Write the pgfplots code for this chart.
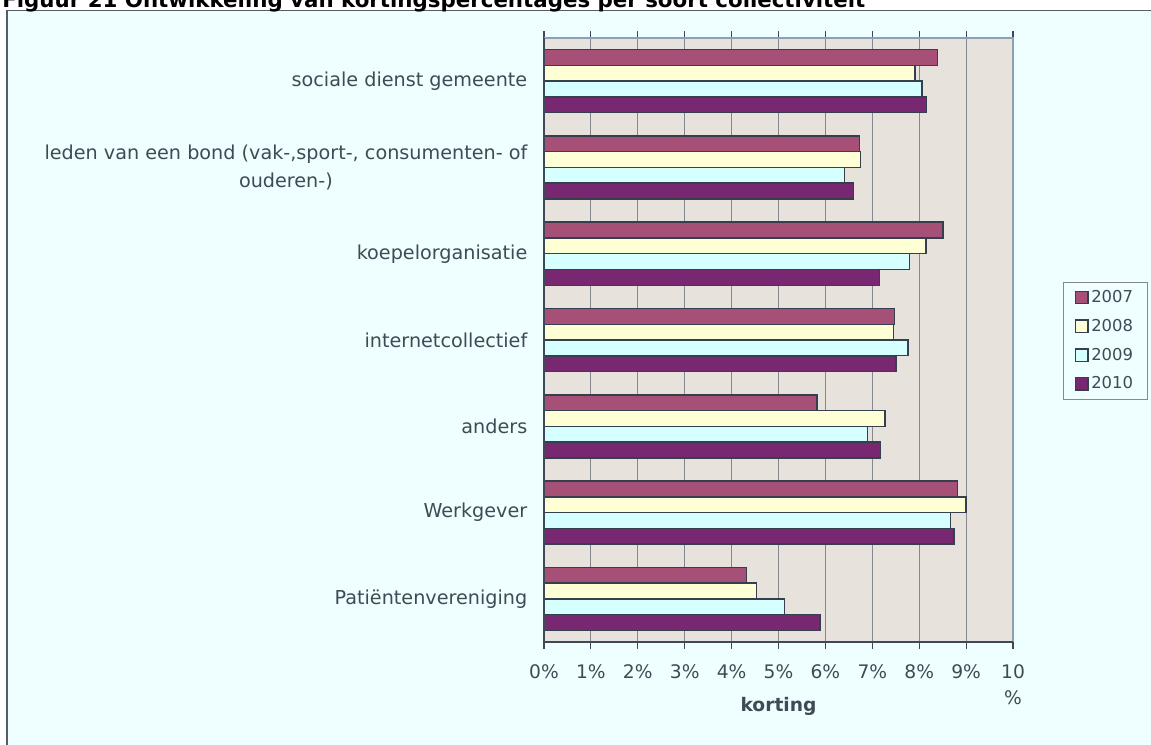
\documentclass[border=0pt]{standalone}
\usepackage{pgfplots}
\pgfplotsset{compat=1.18}
\usepackage{fontspec}
\setmainfont{DejaVu Sans}
\definecolor{bgcol}{HTML}{EFFFFF}
\definecolor{plotbg}{HTML}{E8E2DC}
\definecolor{cA}{HTML}{A64F77}
\definecolor{cB}{HTML}{FFFFD6}
\definecolor{cC}{HTML}{D6FFFF}
\definecolor{cD}{HTML}{782870}
\definecolor{barline}{HTML}{363F4D}
\definecolor{gridcol}{HTML}{85888E}
\definecolor{axtop}{HTML}{8EA0B8}
\definecolor{axdark}{HTML}{3E4856}
\definecolor{txt}{HTML}{404A55}
\definecolor{framecol}{HTML}{555D66}
\begin{document}
\begin{tikzpicture}[x=0.75pt,y=0.75pt]
\useasboundingbox (0,0) rectangle (1151,744);
\fill[bgcol] (7,733.5) rectangle (1170,-20);
\draw[framecol, line width=1.2pt] (7,-20) -- (7,733.5) -- (1170,733.5);
\node[anchor=base west, font=\bfseries\fontsize{16}{18}\selectfont, inner sep=0, text=black] at (2,736.7) {Figuur 21 Ontwikkeling van kortingspercentages per soort collectiviteit};
\begin{axis}[
  at={(408pt,76.5pt)}, anchor=south west,
  width=351.75pt, height=453pt, scale only axis,
  xmin=0, xmax=10, ymin=-0.5, ymax=6.5,
  xbar, bar width=0.1825,
  axis background/.style={fill=plotbg},
  axis line style={draw=none},
  xmajorgrids, major grid style={gridcol, line width=0.8pt},
  xtick={0,...,10},
  xticklabels={0\%,1\%,2\%,3\%,4\%,5\%,6\%,7\%,8\%,9\%,{10\\\%}},
  ytick={0,...,6},
  yticklabels={Patiëntenvereniging,Werkgever,anders,internetcollectief,koepelorganisatie,{leden van een bond (vak-,sport-, consumenten- of\\ouderen-)},sociale dienst gemeente},
  minor ytick={-0.5,0.5,...,6.5},
  tick align=outside,
  major tick length=5.25pt, minor tick length=5.25pt,
  ytick style={draw=none},
  minor tick style={axdark, line width=0.8pt},
  xtick style={axdark, line width=0.8pt},
  x tick label style={font=\fontsize{14}{19.5}\selectfont, text=txt, align=center, yshift=-8.5pt},
  y tick label style={font=\fontsize{14.4}{21}\selectfont, text=txt, align=center, xshift=-3.75pt},
  xlabel={\textbf{korting}},
  xlabel style={font=\fontsize{14}{16}\selectfont, text=txt, at={(axis description cs:0.5,0)}, anchor=base, yshift=-51.75pt},
  legend style={at={(1.1066,0.596)}, anchor=north west, draw=gridcol, fill=bgcol,
     font=\fontsize{12.3}{14}\selectfont, text=txt, row sep=7pt, inner xsep=8.5pt, inner ysep=4pt},
  legend cell align=left,
  legend image code/.code={\draw[#1, line width=1pt] (0pt,-4.6pt) rectangle (9.5pt,4.6pt);},
  clip=false,
]
\addplot[fill=cA, draw=barline, line width=1.1pt, bar shift=0.274] coordinates {
(4.32,0) (8.82,1) (5.82,2) (7.47,3) (8.51,4) (6.73,5) (8.39,6)};
\addplot[fill=cB, draw=barline, line width=1.1pt, bar shift=0.091] coordinates {
(4.53,0) (9.00,1) (7.27,2) (7.45,3) (8.14,4) (6.75,5) (7.91,6)};
\addplot[fill=cC, draw=barline, line width=1.1pt, bar shift=-0.091] coordinates {
(5.13,0) (8.67,1) (6.90,2) (7.76,3) (7.79,4) (6.41,5) (8.06,6)};
\addplot[fill=cD, draw=barline, line width=1.1pt, bar shift=-0.274] coordinates {
(5.88,0) (8.74,1) (7.18,2) (7.51,3) (7.15,4) (6.60,5) (8.16,6)};
\legend{2007,2008,2009,2010}
\draw[axtop, line width=1.2pt] (axis cs:0,6.5) -- (axis cs:10,6.5) -- (axis cs:10,-0.5);
\draw[axdark, line width=0.8pt] (axis cs:0,6.5) -- (axis cs:0,-0.5) -- (axis cs:10,-0.5);
\end{axis}
\end{tikzpicture}
\end{document}
